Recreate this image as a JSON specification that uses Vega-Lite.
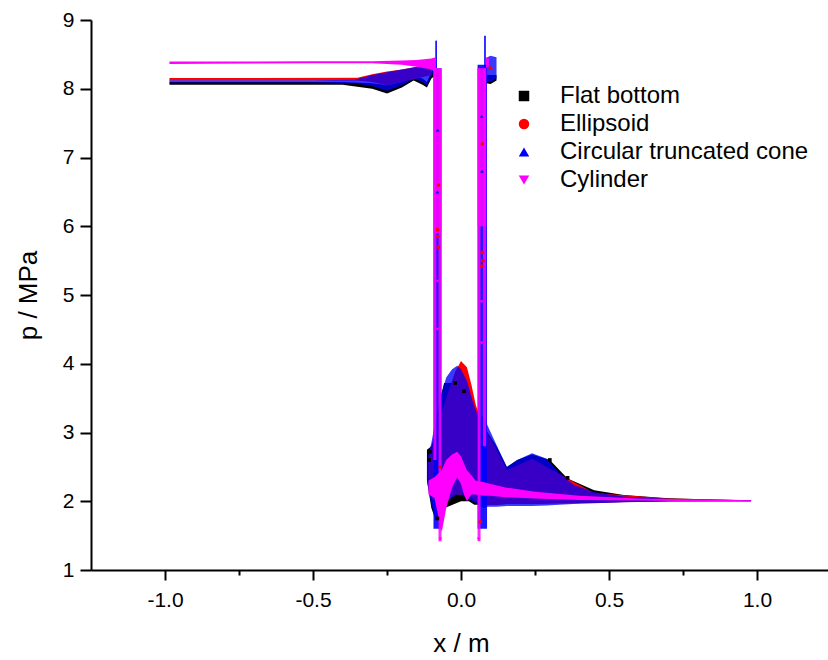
{
  "$schema": "https://vega.github.io/schema/vega-lite/v6.json",
  "width": 740,
  "height": 550,
  "autosize": {"type": "none"},
  "padding": {"left": 91, "top": 20, "right": 0, "bottom": 90},
  "background": "white",
  "config": {
    "view": {"stroke": null},
    "font": "Liberation Sans",
    "axis": {"domainColor": "black", "domainWidth": 2, "tickColor": "black", "tickWidth": 2, "labelColor": "black", "titleColor": "black", "grid": false, "labelFont": "Liberation Sans", "titleFont": "Liberation Sans", "titleFontWeight": "normal"}
  },
  "datasets": {
    "bands": [
      {"s": "Flat bottom", "seg": "L", "x": -0.985, "lo": 8.06, "hi": 8.10},
      {"s": "Flat bottom", "seg": "L", "x": -0.4, "lo": 8.06, "hi": 8.10},
      {"s": "Flat bottom", "seg": "L", "x": -0.3, "lo": 8.0, "hi": 8.08},
      {"s": "Flat bottom", "seg": "L", "x": -0.25, "lo": 7.93, "hi": 8.05},
      {"s": "Flat bottom", "seg": "L", "x": -0.2, "lo": 8.02, "hi": 8.1},
      {"s": "Flat bottom", "seg": "L", "x": -0.16, "lo": 8.12, "hi": 8.2},
      {"s": "Flat bottom", "seg": "L", "x": -0.13, "lo": 8.06, "hi": 8.15},
      {"s": "Flat bottom", "seg": "L", "x": -0.115, "lo": 8.02, "hi": 8.1},
      {"s": "Flat bottom", "seg": "L", "x": -0.1, "lo": 8.15, "hi": 8.25},
      {"s": "Flat bottom", "seg": "L", "x": -0.085, "lo": 8.2, "hi": 8.3},
      {"s": "Flat bottom", "seg": "R", "x": 0.085, "lo": 8.08, "hi": 8.2},
      {"s": "Flat bottom", "seg": "R", "x": 0.1, "lo": 8.07, "hi": 8.2},
      {"s": "Flat bottom", "seg": "R", "x": 0.12, "lo": 8.12, "hi": 8.2},
      {"s": "Flat bottom", "seg": "M", "x": -0.115, "lo": 2.3, "hi": 2.75},
      {"s": "Flat bottom", "seg": "M", "x": -0.1, "lo": 1.9, "hi": 2.8},
      {"s": "Flat bottom", "seg": "M", "x": -0.085, "lo": 1.72, "hi": 3.0},
      {"s": "Flat bottom", "seg": "M", "x": -0.07, "lo": 1.8, "hi": 3.5},
      {"s": "Flat bottom", "seg": "M", "x": -0.057, "lo": 1.9, "hi": 3.72},
      {"s": "Flat bottom", "seg": "M", "x": 0.0, "lo": 2.0, "hi": 3.72},
      {"s": "Flat bottom", "seg": "M", "x": 0.027, "lo": 2.0, "hi": 3.72},
      {"s": "Flat bottom", "seg": "M", "x": 0.045, "lo": 1.95, "hi": 3.4},
      {"s": "Flat bottom", "seg": "M", "x": 0.06, "lo": 1.95, "hi": 3.1},
      {"s": "Flat bottom", "seg": "M", "x": 0.09, "lo": 1.95, "hi": 3.0},
      {"s": "Flat bottom", "seg": "M", "x": 0.12, "lo": 1.95, "hi": 2.8},
      {"s": "Flat bottom", "seg": "M", "x": 0.155, "lo": 1.96, "hi": 2.5},
      {"s": "Flat bottom", "seg": "M", "x": 0.19, "lo": 1.96, "hi": 2.6},
      {"s": "Flat bottom", "seg": "M", "x": 0.24, "lo": 1.96, "hi": 2.68},
      {"s": "Flat bottom", "seg": "M", "x": 0.3, "lo": 1.97, "hi": 2.6},
      {"s": "Flat bottom", "seg": "M", "x": 0.36, "lo": 1.97, "hi": 2.33},
      {"s": "Flat bottom", "seg": "M", "x": 0.45, "lo": 1.98, "hi": 2.16},
      {"s": "Flat bottom", "seg": "M", "x": 0.55, "lo": 1.99, "hi": 2.09},
      {"s": "Flat bottom", "seg": "M", "x": 0.7, "lo": 2.0, "hi": 2.045},
      {"s": "Flat bottom", "seg": "M", "x": 0.85, "lo": 2.0, "hi": 2.025},
      {"s": "Flat bottom", "seg": "M", "x": 0.98, "lo": 2.0, "hi": 2.015},

      {"s": "Ellipsoid", "seg": "L", "x": -0.985, "lo": 8.12, "hi": 8.155},
      {"s": "Ellipsoid", "seg": "L", "x": -0.35, "lo": 8.12, "hi": 8.16},
      {"s": "Ellipsoid", "seg": "L", "x": -0.3, "lo": 8.1, "hi": 8.21},
      {"s": "Ellipsoid", "seg": "L", "x": -0.25, "lo": 8.05, "hi": 8.25},
      {"s": "Ellipsoid", "seg": "L", "x": -0.2, "lo": 8.1, "hi": 8.28},
      {"s": "Ellipsoid", "seg": "L", "x": -0.1, "lo": 8.2, "hi": 8.36},
      {"s": "Ellipsoid", "seg": "M", "x": -0.11, "lo": 2.3, "hi": 2.6},
      {"s": "Ellipsoid", "seg": "M", "x": -0.085, "lo": 1.8, "hi": 3.0},
      {"s": "Ellipsoid", "seg": "M", "x": -0.05, "lo": 2.0, "hi": 3.5},
      {"s": "Ellipsoid", "seg": "M", "x": -0.02, "lo": 2.1, "hi": 3.88},
      {"s": "Ellipsoid", "seg": "M", "x": 0.0, "lo": 2.1, "hi": 4.04},
      {"s": "Ellipsoid", "seg": "M", "x": 0.02, "lo": 2.1, "hi": 3.95},
      {"s": "Ellipsoid", "seg": "M", "x": 0.035, "lo": 2.05, "hi": 3.7},
      {"s": "Ellipsoid", "seg": "M", "x": 0.05, "lo": 2.0, "hi": 3.4},
      {"s": "Ellipsoid", "seg": "M", "x": 0.075, "lo": 1.95, "hi": 3.1},
      {"s": "Ellipsoid", "seg": "M", "x": 0.12, "lo": 1.95, "hi": 2.75},
      {"s": "Ellipsoid", "seg": "M", "x": 0.155, "lo": 1.96, "hi": 2.45},
      {"s": "Ellipsoid", "seg": "M", "x": 0.24, "lo": 1.96, "hi": 2.62},
      {"s": "Ellipsoid", "seg": "M", "x": 0.33, "lo": 1.97, "hi": 2.4},
      {"s": "Ellipsoid", "seg": "M", "x": 0.45, "lo": 1.98, "hi": 2.12},
      {"s": "Ellipsoid", "seg": "M", "x": 0.7, "lo": 2.0, "hi": 2.04},
      {"s": "Ellipsoid", "seg": "M", "x": 0.98, "lo": 2.0, "hi": 2.015},

      {"s": "Circular truncated cone", "seg": "L", "x": -0.985, "lo": 8.09, "hi": 8.125},
      {"s": "Circular truncated cone", "seg": "L", "x": -0.5, "lo": 8.09, "hi": 8.125},
      {"s": "Circular truncated cone", "seg": "L", "x": -0.36, "lo": 8.08, "hi": 8.13},
      {"s": "Circular truncated cone", "seg": "L", "x": -0.3, "lo": 8.04, "hi": 8.2},
      {"s": "Circular truncated cone", "seg": "L", "x": -0.25, "lo": 7.97, "hi": 8.24},
      {"s": "Circular truncated cone", "seg": "L", "x": -0.2, "lo": 8.05, "hi": 8.28},
      {"s": "Circular truncated cone", "seg": "L", "x": -0.16, "lo": 8.15, "hi": 8.31},
      {"s": "Circular truncated cone", "seg": "L", "x": -0.13, "lo": 8.1, "hi": 8.34},
      {"s": "Circular truncated cone", "seg": "L", "x": -0.115, "lo": 8.05, "hi": 8.36},
      {"s": "Circular truncated cone", "seg": "L", "x": -0.1, "lo": 8.2, "hi": 8.38},
      {"s": "Circular truncated cone", "seg": "L", "x": -0.085, "lo": 8.25, "hi": 8.4},
      {"s": "Circular truncated cone", "seg": "R", "x": 0.085, "lo": 8.1, "hi": 8.45},
      {"s": "Circular truncated cone", "seg": "R", "x": 0.1, "lo": 8.1, "hi": 8.48},
      {"s": "Circular truncated cone", "seg": "R", "x": 0.12, "lo": 8.15, "hi": 8.46},
      {"s": "Circular truncated cone", "seg": "M", "x": -0.115, "lo": 2.3, "hi": 2.6},
      {"s": "Circular truncated cone", "seg": "M", "x": -0.1, "lo": 1.95, "hi": 2.85},
      {"s": "Circular truncated cone", "seg": "M", "x": -0.085, "lo": 1.75, "hi": 3.2},
      {"s": "Circular truncated cone", "seg": "M", "x": -0.07, "lo": 1.85, "hi": 3.5},
      {"s": "Circular truncated cone", "seg": "M", "x": -0.05, "lo": 2.0, "hi": 3.8},
      {"s": "Circular truncated cone", "seg": "M", "x": -0.03, "lo": 2.05, "hi": 3.92},
      {"s": "Circular truncated cone", "seg": "M", "x": -0.013, "lo": 2.1, "hi": 3.97},
      {"s": "Circular truncated cone", "seg": "M", "x": 0.0, "lo": 2.1, "hi": 3.92},
      {"s": "Circular truncated cone", "seg": "M", "x": 0.02, "lo": 2.05, "hi": 3.75},
      {"s": "Circular truncated cone", "seg": "M", "x": 0.04, "lo": 2.0, "hi": 3.45},
      {"s": "Circular truncated cone", "seg": "M", "x": 0.06, "lo": 1.95, "hi": 3.2},
      {"s": "Circular truncated cone", "seg": "M", "x": 0.075, "lo": 1.9, "hi": 3.25},
      {"s": "Circular truncated cone", "seg": "M", "x": 0.09, "lo": 1.92, "hi": 3.1},
      {"s": "Circular truncated cone", "seg": "M", "x": 0.12, "lo": 1.92, "hi": 2.82},
      {"s": "Circular truncated cone", "seg": "M", "x": 0.155, "lo": 1.93, "hi": 2.5},
      {"s": "Circular truncated cone", "seg": "M", "x": 0.19, "lo": 1.93, "hi": 2.6},
      {"s": "Circular truncated cone", "seg": "M", "x": 0.24, "lo": 1.93, "hi": 2.7},
      {"s": "Circular truncated cone", "seg": "M", "x": 0.29, "lo": 1.94, "hi": 2.62},
      {"s": "Circular truncated cone", "seg": "M", "x": 0.33, "lo": 1.95, "hi": 2.42},
      {"s": "Circular truncated cone", "seg": "M", "x": 0.38, "lo": 1.96, "hi": 2.24},
      {"s": "Circular truncated cone", "seg": "M", "x": 0.45, "lo": 1.97, "hi": 2.13},
      {"s": "Circular truncated cone", "seg": "M", "x": 0.55, "lo": 1.985, "hi": 2.07},
      {"s": "Circular truncated cone", "seg": "M", "x": 0.7, "lo": 1.995, "hi": 2.035},
      {"s": "Circular truncated cone", "seg": "M", "x": 0.85, "lo": 2.0, "hi": 2.02},
      {"s": "Circular truncated cone", "seg": "M", "x": 0.98, "lo": 2.0, "hi": 2.015},

      {"s": "Cylinder", "seg": "L", "x": -0.985, "lo": 8.36, "hi": 8.395},
      {"s": "Cylinder", "seg": "L", "x": -0.5, "lo": 8.37, "hi": 8.4},
      {"s": "Cylinder", "seg": "L", "x": -0.3, "lo": 8.37, "hi": 8.4},
      {"s": "Cylinder", "seg": "L", "x": -0.2, "lo": 8.35, "hi": 8.41},
      {"s": "Cylinder", "seg": "L", "x": -0.15, "lo": 8.32, "hi": 8.42},
      {"s": "Cylinder", "seg": "L", "x": -0.1, "lo": 8.28, "hi": 8.44},
      {"s": "Cylinder", "seg": "L", "x": -0.085, "lo": 8.25, "hi": 8.46},
      {"s": "Cylinder", "seg": "R", "x": 0.085, "lo": 8.3, "hi": 8.45},
      {"s": "Cylinder", "seg": "R", "x": 0.095, "lo": 8.33, "hi": 8.44},
      {"s": "Cylinder", "seg": "M", "x": -0.11, "lo": 2.1, "hi": 2.3},
      {"s": "Cylinder", "seg": "M", "x": -0.09, "lo": 2.05, "hi": 2.35},
      {"s": "Cylinder", "seg": "M", "x": -0.065, "lo": 1.55, "hi": 2.45},
      {"s": "Cylinder", "seg": "M", "x": -0.05, "lo": 1.9, "hi": 2.6},
      {"s": "Cylinder", "seg": "M", "x": -0.03, "lo": 2.2, "hi": 2.68},
      {"s": "Cylinder", "seg": "M", "x": -0.013, "lo": 2.35, "hi": 2.72},
      {"s": "Cylinder", "seg": "M", "x": 0.0, "lo": 2.25, "hi": 2.65},
      {"s": "Cylinder", "seg": "M", "x": 0.01, "lo": 2.1, "hi": 2.55},
      {"s": "Cylinder", "seg": "M", "x": 0.02, "lo": 2.0, "hi": 2.45},
      {"s": "Cylinder", "seg": "M", "x": 0.035, "lo": 2.1, "hi": 2.38},
      {"s": "Cylinder", "seg": "M", "x": 0.05, "lo": 2.1, "hi": 2.3},
      {"s": "Cylinder", "seg": "M", "x": 0.075, "lo": 2.08, "hi": 2.28},
      {"s": "Cylinder", "seg": "M", "x": 0.1, "lo": 2.08, "hi": 2.25},
      {"s": "Cylinder", "seg": "M", "x": 0.15, "lo": 2.06, "hi": 2.2},
      {"s": "Cylinder", "seg": "M", "x": 0.25, "lo": 2.04, "hi": 2.14},
      {"s": "Cylinder", "seg": "M", "x": 0.4, "lo": 2.02, "hi": 2.08},
      {"s": "Cylinder", "seg": "M", "x": 0.6, "lo": 2.01, "hi": 2.04},
      {"s": "Cylinder", "seg": "M", "x": 0.8, "lo": 2.0, "hi": 2.025},
      {"s": "Cylinder", "seg": "M", "x": 0.98, "lo": 2.0, "hi": 2.015}
    ],
    "cols": [
      {"s": "Circular truncated cone", "x": -0.093, "x2": -0.066, "lo": 1.6, "hi": 8.3},
      {"s": "Circular truncated cone", "x": 0.056, "x2": 0.088, "lo": 1.6, "hi": 8.35},
      {"s": "Circular truncated cone", "x": -0.087, "x2": -0.081, "lo": 8.3, "hi": 8.7},
      {"s": "Circular truncated cone", "x": 0.078, "x2": 0.084, "lo": 8.3, "hi": 8.77},
      {"s": "Cylinder", "x": -0.093, "x2": -0.083, "lo": 2.6, "hi": 8.3},
      {"s": "Cylinder", "x": -0.076, "x2": -0.066, "lo": 1.42, "hi": 8.3},
      {"s": "Cylinder", "x": 0.056, "x2": 0.066, "lo": 1.42, "hi": 8.3},
      {"s": "Cylinder", "x": 0.074, "x2": 0.085, "lo": 2.8, "hi": 8.3},
      {"s": "Cylinder", "x": -0.093, "x2": -0.066, "lo": 5.9, "hi": 8.3},
      {"s": "Cylinder", "x": 0.056, "x2": 0.085, "lo": 6.0, "hi": 8.3}
    ],
    "pts": [
      {"s": "Flat bottom", "x": -0.105, "y": 2.72},
      {"s": "Flat bottom", "x": -0.108, "y": 2.6},
      {"s": "Flat bottom", "x": -0.08, "y": 1.75},
      {"s": "Flat bottom", "x": -0.02, "y": 3.72},
      {"s": "Flat bottom", "x": 0.01, "y": 3.6},
      {"s": "Flat bottom", "x": 0.3, "y": 2.6},
      {"s": "Flat bottom", "x": 0.36, "y": 2.34},
      {"s": "Ellipsoid", "x": -0.079, "y": 5.85},
      {"s": "Ellipsoid", "x": -0.077, "y": 5.7},
      {"s": "Ellipsoid", "x": -0.08, "y": 5.95},
      {"s": "Ellipsoid", "x": -0.076, "y": 6.6},
      {"s": "Ellipsoid", "x": 0.072, "y": 5.62},
      {"s": "Ellipsoid", "x": 0.074, "y": 5.5},
      {"s": "Ellipsoid", "x": 0.07, "y": 5.42},
      {"s": "Ellipsoid", "x": 0.072, "y": 7.2},
      {"s": "Ellipsoid", "x": 0.1, "y": 8.3},
      {"s": "Ellipsoid", "x": -0.07, "y": 2.5},
      {"s": "Ellipsoid", "x": 0.065, "y": 1.7},
      {"s": "Circular truncated cone", "x": -0.08, "y": 6.5},
      {"s": "Circular truncated cone", "x": 0.071, "y": 6.8},
      {"s": "Circular truncated cone", "x": -0.079, "y": 7.4},
      {"s": "Circular truncated cone", "x": 0.07, "y": 7.6},
      {"s": "Cylinder", "x": -0.07, "y": 1.45},
      {"s": "Cylinder", "x": 0.06, "y": 1.45},
      {"s": "Cylinder", "x": -0.079, "y": 4.5},
      {"s": "Cylinder", "x": 0.07, "y": 4.3},
      {"s": "Cylinder", "x": -0.079, "y": 5.2},
      {"s": "Cylinder", "x": 0.07, "y": 4.9}
    ]
  },
  "encoding": {
    "x": {"field": "x", "type": "quantitative", "scale": {"domain": [-1.25, 1.25], "nice": false, "zero": false},
      "axis": {"title": "x / m", "titleFontSize": 26, "titlePadding": 20, "labelFontSize": 21, "labelPadding": 9,
        "values": [-1, -0.75, -0.5, -0.25, 0, 0.25, 0.5, 0.75, 1],
        "labelExpr": "abs(datum.value * 2 - round(datum.value * 2)) < 0.001 ? replace(format(datum.value, '.1f'), '\u2212', '-') : ''",
        "tickSize": {"condition": {"test": "abs(datum.value * 2 - round(datum.value * 2)) < 0.001", "value": 10}, "value": 5}}}
  },
  "layer": [
    {
      "data": {"name": "bands"},
      "transform": [{"filter": "datum.s === 'Flat bottom'"}],
      "mark": {"type": "area", "color": "#000000", "opacity": 1},
      "encoding": {
        "y": {"field": "lo", "type": "quantitative", "scale": {"domain": [1, 9], "nice": false, "zero": false},
          "axis": {"title": "p / MPa", "titleFontSize": 26, "titlePadding": 21, "labelFontSize": 21, "labelPadding": 6,
            "values": [1, 1.5, 2, 2.5, 3, 3.5, 4, 4.5, 5, 5.5, 6, 6.5, 7, 7.5, 8, 8.5, 9],
            "labelExpr": "datum.value % 1 === 0 ? format(datum.value, 'd') : ''",
            "tickSize": {"condition": {"test": "datum.value % 1 === 0", "value": 11}, "value": 6}}},
        "y2": {"field": "hi"},
        "detail": {"field": "seg"}
      }
    },
    {
      "data": {"name": "bands"},
      "transform": [{"filter": "datum.s === 'Ellipsoid'"}],
      "mark": {"type": "area", "color": "#ff0000", "opacity": 1},
      "encoding": {"y": {"field": "lo", "type": "quantitative"}, "y2": {"field": "hi"}, "detail": {"field": "seg"}}
    },
    {
      "data": {"name": "bands"},
      "transform": [{"filter": "datum.s === 'Circular truncated cone'"}],
      "mark": {"type": "area", "color": "#0000ff", "opacity": 0.78},
      "encoding": {"y": {"field": "lo", "type": "quantitative"}, "y2": {"field": "hi"}, "detail": {"field": "seg"}}
    },
    {
      "data": {"name": "cols"},
      "transform": [{"filter": "datum.s === 'Circular truncated cone'"}],
      "mark": {"type": "rect", "color": "#0000ff", "opacity": 0.9},
      "encoding": {"x2": {"field": "x2"}, "y": {"field": "lo", "type": "quantitative"}, "y2": {"field": "hi"}}
    },
    {
      "data": {"name": "bands"},
      "transform": [{"filter": "datum.s === 'Cylinder'"}],
      "mark": {"type": "area", "color": "#ff00ff", "opacity": 1},
      "encoding": {"y": {"field": "lo", "type": "quantitative"}, "y2": {"field": "hi"}, "detail": {"field": "seg"}}
    },
    {
      "data": {"name": "cols"},
      "transform": [{"filter": "datum.s === 'Cylinder'"}],
      "mark": {"type": "rect", "color": "#ff00ff", "opacity": 0.85},
      "encoding": {"x2": {"field": "x2"}, "y": {"field": "lo", "type": "quantitative"}, "y2": {"field": "hi"}}
    },
    {
      "data": {"name": "pts"},
      "mark": {"type": "point", "filled": true, "opacity": 1, "size": 14},
      "encoding": {
        "y": {"field": "y", "type": "quantitative"},
        "color": {"field": "s", "type": "nominal",
          "scale": {"domain": ["Flat bottom", "Ellipsoid", "Circular truncated cone", "Cylinder"], "range": ["#000000", "#ff0000", "#0000ff", "#ff00ff"]},
          "legend": {"title": null, "orient": "none", "legendX": 421, "legendY": 64, "labelFontSize": 24, "labelFont": "Liberation Sans", "labelColor": "black", "symbolSize": 110, "symbolOpacity": 1, "symbolStrokeWidth": 0, "labelOffset": 24, "rowPadding": 4, "padding": 0, "labelLimit": 400}},
        "shape": {"field": "s", "type": "nominal",
          "scale": {"domain": ["Flat bottom", "Ellipsoid", "Circular truncated cone", "Cylinder"], "range": ["square", "circle", "triangle-up", "triangle-down"]},
          "legend": {"title": null, "orient": "none", "legendX": 421, "legendY": 64, "labelFontSize": 24, "labelFont": "Liberation Sans", "labelColor": "black", "symbolSize": 110, "symbolOpacity": 1, "symbolStrokeWidth": 0, "labelOffset": 24, "rowPadding": 4, "padding": 0, "labelLimit": 400}}
      }
    }
  ]
}
